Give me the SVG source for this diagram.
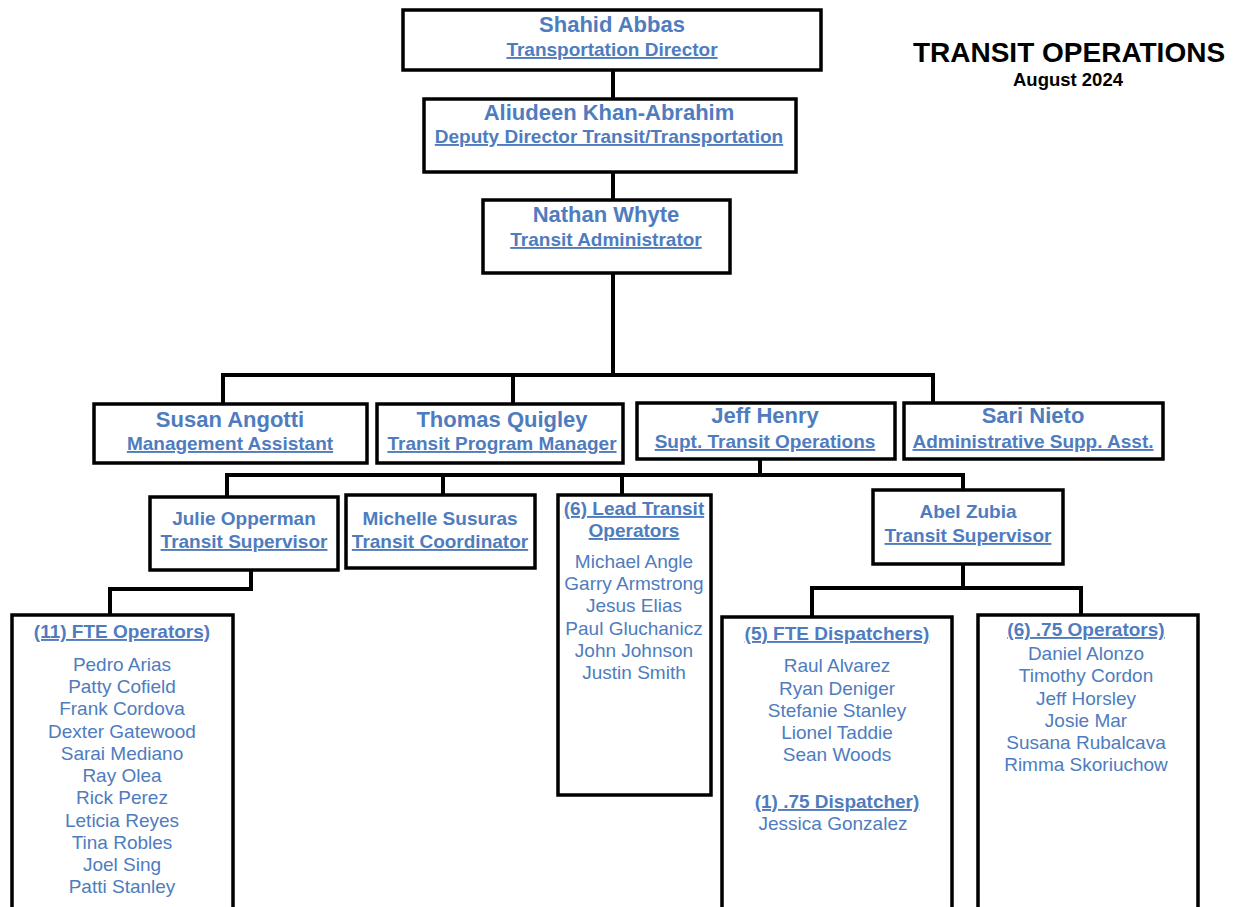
<svg xmlns="http://www.w3.org/2000/svg" width="1239" height="907" viewBox="0 0 1239 907">
<style>
.box{fill:#fff;stroke:#000;stroke-width:3.5}
.ln{fill:none;stroke:#000;stroke-width:4;stroke-linejoin:miter;stroke-linecap:square}
text{font-family:"Liberation Sans",Arial,sans-serif;text-anchor:middle;fill:#4E7CBE}
.nm{font-weight:bold;font-size:22px}
.tt{font-weight:bold;font-size:19px;text-decoration:underline}
.nm2{font-weight:bold;font-size:19px}
.li{font-size:19px}
.hd{fill:#000;font-weight:bold}
</style>
<rect width="1239" height="907" fill="#fff"/>
<g id="connectors">
<path class="ln" d="M613 70V99M613 172V200M613 273V375M223 402V375H933V403M513 375V404"/>
<path class="ln" d="M760 459V475M227 497V475H963V490M443 475V495M622 475V495"/>
<path class="ln" d="M251 570V589H110V615"/>
<path class="ln" d="M963 564V588H812V617M963 588H1081V615"/>
</g>
<g id="title">
<text class="hd" x="1069" y="62" font-size="28">TRANSIT OPERATIONS</text>
<text class="hd" x="1068" y="86" font-size="18.5">August 2024</text>
</g>
<g id="shahid-abbas">
<rect class="box" x="403" y="10" width="418" height="60"/>
<text class="nm" x="612" y="32">Shahid Abbas</text>
<text class="tt" x="612" y="56">Transportation Director</text>
</g>
<g id="aliudeen-khan-abrahim">
<rect class="box" x="424" y="99" width="372" height="73"/>
<text class="nm" x="609" y="120">Aliudeen Khan-Abrahim</text>
<text class="tt" x="609" y="143">Deputy Director Transit/Transportation</text>
</g>
<g id="nathan-whyte">
<rect class="box" x="483" y="200" width="247" height="73"/>
<text class="nm" x="606" y="222">Nathan Whyte</text>
<text class="tt" x="606" y="246">Transit Administrator</text>
</g>
<g id="susan-angotti">
<rect class="box" x="94" y="404" width="273" height="59"/>
<text class="nm" x="230" y="427">Susan Angotti</text>
<text class="tt" x="230" y="450">Management Assistant</text>
</g>
<g id="thomas-quigley">
<rect class="box" x="377" y="404" width="246" height="59"/>
<text class="nm" x="502" y="427">Thomas Quigley</text>
<text class="tt" x="502" y="450">Transit Program Manager</text>
</g>
<g id="jeff-henry">
<rect class="box" x="637" y="403" width="258" height="56"/>
<text class="nm" x="765" y="423">Jeff Henry</text>
<text class="tt" x="765" y="448">Supt. Transit Operations</text>
</g>
<g id="sari-nieto">
<rect class="box" x="904" y="403" width="259" height="56"/>
<text class="nm" x="1033" y="423">Sari Nieto</text>
<text class="tt" x="1033" y="448">Administrative Supp. Asst.</text>
</g>
<g id="julie-opperman">
<rect class="box" x="150" y="497" width="188" height="73"/>
<text class="nm2" x="244" y="525">Julie Opperman</text>
<text class="tt" x="244" y="548">Transit Supervisor</text>
</g>
<g id="michelle-susuras">
<rect class="box" x="346" y="495" width="189" height="73"/>
<text class="nm2" x="440" y="525">Michelle Susuras</text>
<text class="tt" x="440" y="548">Transit Coordinator</text>
</g>
<g id="lead-transit-operators">
<rect class="box" x="558" y="495" width="153" height="300"/>
<text class="tt" x="634" y="515">(6) Lead Transit</text>
<text class="tt" x="634" y="537">Operators</text>
<text class="li" x="634" y="568">Michael Angle</text>
<text class="li" x="634" y="590">Garry Armstrong</text>
<text class="li" x="634" y="612">Jesus Elias</text>
<text class="li" x="634" y="635">Paul Gluchanicz</text>
<text class="li" x="634" y="657">John Johnson</text>
<text class="li" x="634" y="679">Justin Smith</text>
</g>
<g id="abel-zubia">
<rect class="box" x="873" y="490" width="190" height="74"/>
<text class="nm2" x="968" y="518">Abel Zubia</text>
<text class="tt" x="968" y="542">Transit Supervisor</text>
</g>
<g id="fte-operators">
<rect class="box" x="12" y="615" width="221" height="310"/>
<text class="tt" x="122" y="638">(11) FTE Operators)</text>
<text class="li" x="122" y="671">Pedro Arias</text>
<text class="li" x="122" y="693">Patty Cofield</text>
<text class="li" x="122" y="715">Frank Cordova</text>
<text class="li" x="122" y="738">Dexter Gatewood</text>
<text class="li" x="122" y="760">Sarai Mediano</text>
<text class="li" x="122" y="782">Ray Olea</text>
<text class="li" x="122" y="804">Rick Perez</text>
<text class="li" x="122" y="827">Leticia Reyes</text>
<text class="li" x="122" y="849">Tina Robles</text>
<text class="li" x="122" y="871">Joel Sing</text>
<text class="li" x="122" y="893">Patti Stanley</text>
</g>
<g id="fte-dispatchers">
<rect class="box" x="722" y="617" width="230" height="310"/>
<text class="tt" x="837" y="640">(5) FTE Dispatchers)</text>
<text class="li" x="837" y="672">Raul Alvarez</text>
<text class="li" x="837" y="695">Ryan Deniger</text>
<text class="li" x="837" y="717">Stefanie Stanley</text>
<text class="li" x="837" y="739">Lionel Taddie</text>
<text class="li" x="837" y="761">Sean Woods</text>
<text class="tt" x="837" y="808">(1) .75 Dispatcher)</text>
<text class="li" x="833" y="830">Jessica Gonzalez</text>
</g>
<g id="operators-75">
<rect class="box" x="978" y="615" width="220" height="310"/>
<text class="tt" x="1086" y="636">(6) .75 Operators)</text>
<text class="li" x="1086" y="660">Daniel Alonzo</text>
<text class="li" x="1086" y="682">Timothy Cordon</text>
<text class="li" x="1086" y="705">Jeff Horsley</text>
<text class="li" x="1086" y="727">Josie Mar</text>
<text class="li" x="1086" y="749">Susana Rubalcava</text>
<text class="li" x="1086" y="771">Rimma Skoriuchow</text>
</g>
</svg>
